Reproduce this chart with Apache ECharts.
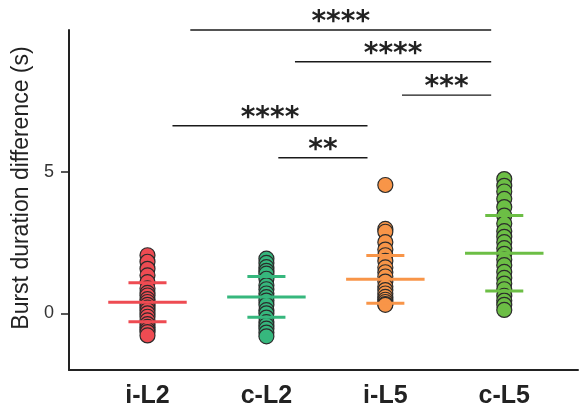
<!DOCTYPE html>
<html>
<head>
<meta charset="utf-8">
<script src="https://cdn.jsdelivr.net/npm/echarts@6/dist/echarts.min.js"></script>
<style>
  html, body { margin: 0; padding: 0; background: #fff; }
  #chart { width: 579px; height: 420px; }
</style>
</head>
<body>
<div id="chart"></div>
<script>
// Groups along the x axis
const categories = ['i-L2', 'c-L2', 'i-L5', 'c-L5'];
const colors = ['#EE4B52', '#36B77D', '#F89548', '#6CBE45'];

// Burst duration difference (s) per recording
const iL2 = [2.05, 1.82, 1.57, 1.34, 1.10, 0.88, 0.72, 0.63, 0.50, 0.40, 0.30, 0.20, 0.11, 0.00, -0.12, -0.25, -0.38, -0.48, -0.58, -0.66, -0.78];
const cL2 = [1.93, 1.78, 1.63, 1.50, 1.40, 1.22, 0.99, 0.85, 0.70, 0.57, 0.45, 0.30, 0.11, 0.00, -0.15, -0.31, -0.42, -0.54, -0.68, -0.81];
const iL5 = [4.53, 2.98, 2.88, 2.51, 2.25, 2.05, 1.85, 1.62, 1.45, 1.30, 1.12, 0.95, 0.82, 0.70, 0.58, 0.48, 0.40, 0.33, 0.30];
const cL5 = [4.74, 4.50, 4.30, 4.04, 3.75, 3.45, 3.17, 2.90, 2.70, 2.51, 2.30, 2.10, 1.90, 1.70, 1.46, 1.25, 1.05, 0.85, 0.62, 0.45, 0.30, 0.12];

// Group mean and standard deviation
const means = [0.39, 0.58, 1.20, 2.12];
const sds = [0.69, 0.72, 0.84, 1.33];

// Significance brackets: from group, to group, height, stars
const bracketFrom = [0.36, 1.24, 2.14, 0.21, 1.10];
const bracketTo = [2.89, 2.89, 2.89, 1.85, 1.85];
const bracketY = [10.0, 8.88, 7.70, 6.62, 5.49];
const bracketStars = ['****', '****', '***', '****', '**'];

const yTicks = [0, 5];
const groups = [iL2, cL2, iL5, cL5];

const FONT = '"Liberation Sans", Arial, Helvetica, sans-serif';
const STAR_FONT = '"DejaVu Sans", sans-serif';
const chart = echarts.init(document.getElementById('chart'), null, { renderer: 'canvas' });

const scatterSeries = groups.map((vals, gi) => ({
  type: 'scatter',
  name: categories[gi],
  data: vals.map(v => [gi, v]),
  symbol: 'circle',
  symbolSize: 15,
  itemStyle: { color: colors[gi], borderColor: '#2b2b2b', borderWidth: 1.2, opacity: 1 },
  emphasis: { disabled: true },
  z: 2
}));

// Mean (wide) and ±SD (narrow) horizontal bars
const statSeries = {
  type: 'custom',
  data: means.map((m, i) => [i, m, sds[i]]),
  clip: false,
  z: 5,
  renderItem: function (params, api) {
    const gi = api.value(0), m = api.value(1), s = api.value(2);
    const col = colors[gi];
    const seg = (x0, x1, y, w) => {
      const a = api.coord([x0, y]), b = api.coord([x1, y]);
      return { type: 'line', shape: { x1: a[0], y1: a[1], x2: b[0], y2: b[1] },
               style: { stroke: col, lineWidth: w } };
    };
    return { type: 'group', children: [
      seg(gi - 0.33, gi + 0.33, m, 3),
      seg(gi - 0.16, gi + 0.16, m + s, 3),
      seg(gi - 0.16, gi + 0.16, m - s, 3)
    ]};
  }
};

// Significance brackets with star labels
const bracketSeries = {
  type: 'custom',
  data: bracketY.map((y, i) => [bracketFrom[i], bracketTo[i], y, i]),
  clip: false,
  z: 6,
  renderItem: function (params, api) {
    const x0 = api.value(0), x1 = api.value(1), y = api.value(2), idx = api.value(3);
    const a = api.coord([x0, y]), b = api.coord([x1, y]);
    return { type: 'group', children: [
      { type: 'line', shape: { x1: a[0], y1: a[1], x2: b[0], y2: b[1] },
        style: { stroke: '#1a1a1a', lineWidth: 1.4 } },
      { type: 'text', x: (a[0] + b[0]) / 2, y: a[1] - 21,
        style: { text: bracketStars[idx], font: 'bold 28px ' + STAR_FONT, fill: '#222',
                 textAlign: 'center', textVerticalAlign: 'top' } }
    ]};
  }
};

chart.setOption({
  animation: false,
  backgroundColor: '#ffffff',
  grid: { left: 69, right: 1, top: 30, bottom: 50, containLabel: false },
  xAxis: {
    type: 'value',
    min: -0.66,
    max: 3.62,
    splitLine: { show: false },
    axisLine: { show: true, onZero: false, lineStyle: { color: '#222', width: 2 } },
    axisTick: { show: false },
    axisLabel: {
      customValues: [0, 1, 2, 3],
      formatter: v => categories[Math.round(v)],
      margin: 14,
      fontFamily: FONT, fontSize: 25, fontWeight: 'bold', color: '#222',
      showMinLabel: true, showMaxLabel: true
    }
  },
  yAxis: {
    type: 'value',
    min: -2,
    max: 10,
    splitLine: { show: false },
    axisLine: { show: true, onZero: false, lineStyle: { color: '#222', width: 2 } },
    axisTick: { show: true, customValues: yTicks, length: 8, lineStyle: { color: '#222', width: 1.5 } },
    axisLabel: { customValues: yTicks, margin: 15, fontFamily: FONT, fontSize: 18, color: '#333' }
  },
  graphic: [{
    type: 'text',
    x: 22, y: 188,
    rotation: Math.PI / 2,
    style: { text: 'Burst duration difference (s)', font: '23px ' + FONT, fill: '#222',
             textAlign: 'center', textVerticalAlign: 'middle' }
  }],
  series: [...scatterSeries, statSeries, bracketSeries]
});
</script>
</body>
</html>
